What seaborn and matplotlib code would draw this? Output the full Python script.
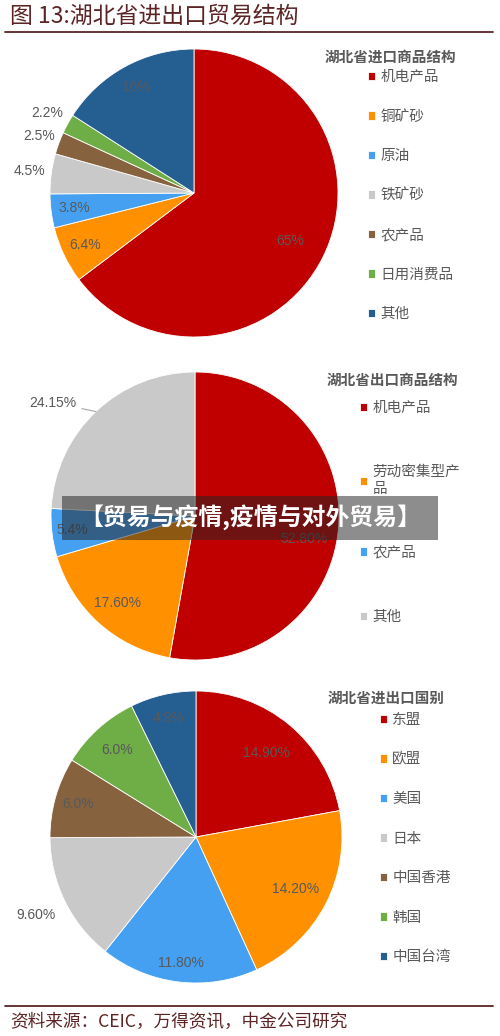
import matplotlib
matplotlib.use("Agg")
import matplotlib.pyplot as plt
import numpy as np
import seaborn as sns
from matplotlib.patches import Rectangle

# 湖北省进口商品结构
imp_names = ["机电产品", "铜矿砂", "原油", "铁矿砂", "农产品", "日用消费品", "其他"]
imp_values = [65, 6.4, 3.8, 4.5, 2.5, 2.2, 16]
imp_labels = ["65%", "6.4%", "3.8%", "4.5%", "2.5%", "2.2%", "16%"]

# 湖北省出口商品结构
exp_names = ["机电产品", "劳动密集型产\n品", "农产品", "其他"]
exp_values = [52.80, 17.60, 5.4, 24.15]
exp_labels = ["52.80%", "17.60%", "5.4%", "24.15%"]

# 湖北省进出口国别
ctry_names = ["东盟", "欧盟", "美国", "日本", "中国香港", "韩国", "中国台湾"]
ctry_values = [14.90, 14.20, 11.80, 9.60, 6.0, 6.0, 4.9]
ctry_labels = ["14.90%", "14.20%", "11.80%", "9.60%", "6.0%", "6.0%", "4.9%"]

RED, ORANGE, LBLUE, GRAY = "#C00000", "#FF9100", "#45A0F2", "#C9C9C9"
BROWN, GREEN, DBLUE = "#86623E", "#6FAD47", "#255E91"

W, H = 500, 1036
TXT = "#595959"
DARK = "#5C2424"
NUM_FONT = ["Liberation Sans", "DejaVu Sans"]

sns.set_theme(style="white")
plt.rcParams["font.family"] = ["Noto Sans CJK SC", "DejaVu Sans"]

fig = plt.figure(figsize=(W / 100, H / 100), dpi=100)
fig.patch.set_facecolor("white")


def pie_axes(cx, cy, r):
    ax = fig.add_axes([(cx - r) / W, (H - cy - r) / H, 2 * r / W, 2 * r / H])
    ax.axis("off")
    return ax


def mid_point(w, d=1.0):
    ang = np.deg2rad((w.theta1 + w.theta2) / 2)
    return d * np.cos(ang), d * np.sin(ang)


def draw_pie(ax, values, colors, labels, dists):
    wedges, _ = ax.pie(values, colors=colors, startangle=90, counterclock=False,
                       radius=1, wedgeprops=dict(edgecolor="white", linewidth=0.6))
    # pie() resets the limits to +-1.25, make the circle fill the axes
    ax.set_xlim(-1, 1)
    ax.set_ylim(-1, 1)
    ax.set_aspect("equal")
    for w, lab, d in zip(wedges, labels, dists):
        if d is None:
            continue
        x, y = mid_point(w, d)
        ax.text(x, y, lab, ha="center", va="center", fontsize=10, color=TXT, family=NUM_FONT)
    return wedges


def legend(handles, names, title, tx, ty, mx, my, spacing):
    fig.text(tx / W, 1 - ty / H, title, ha="left", va="center", fontsize=10.5,
             fontweight="bold", color=TXT)
    fig.legend(handles, names, loc="upper left", bbox_to_anchor=(mx / W, 1 - my / H),
               frameon=False, fontsize=10.5, labelcolor=TXT, borderpad=0,
               borderaxespad=0, handlelength=0.5, handleheight=0.5,
               handletextpad=0.35, labelspacing=spacing)


# pie 1
ax1 = pie_axes(194, 193, 144)
w1 = draw_pie(ax1, imp_values, [RED, ORANGE, LBLUE, GRAY, BROWN, GREEN, DBLUE],
              imp_labels, [0.75, 0.84, 0.84, 1.15, 1.15, 1.16, 0.84])
legend(w1, imp_names, "湖北省进口商品结构", 325, 57, 368, 70, 1.75)

# pie 2
ax2 = pie_axes(195, 516, 144)
w2 = draw_pie(ax2, exp_values, [RED, ORANGE, LBLUE, GRAY],
              exp_labels, [None, 0.81, 0.855, None])
ax2.annotate(exp_labels[0], xy=mid_point(w2[0], 0.76), xytext=(0, -13),
             textcoords="offset pixels", ha="center", va="center", fontsize=10,
             color=TXT, family=NUM_FONT)
ax2.annotate(exp_labels[3], xy=mid_point(w2[3]), xytext=(-20, 9),
             textcoords="offset pixels", ha="right", va="center", fontsize=10,
             color=TXT, family=NUM_FONT,
             arrowprops=dict(arrowstyle="-", color="#A6A6A6", lw=0.8, shrinkA=2, shrinkB=0))
legend(w2, exp_names, "湖北省出口商品结构", 327, 380, 360, 401, 3.45)

# pie 3
ax3 = pie_axes(196, 837, 146)
w3 = draw_pie(ax3, ctry_values, [RED, ORANGE, LBLUE, GRAY, BROWN, GREEN, DBLUE],
              ctry_labels, [0.75, 0.77, 0.87, 1.22, 0.84, 0.80, 0.84])
legend(w3, ctry_names, "湖北省进出口国别", 328, 698, 380, 713, 1.75)

# header / footer
fig.text(10 / W, 1 - 16 / H, "图 13:湖北省进出口贸易结构", ha="left", va="center",
         fontsize=16.5, color=DARK)
fig.add_artist(plt.Line2D([5 / W, 493 / W], [1 - 31.5 / H] * 2, color=DARK, lw=1.3))
fig.add_artist(plt.Line2D([5 / W, 493 / W], [1 - 1006 / H] * 2, color=DARK, lw=1.3))
fig.text(10 / W, 1 - 1022 / H, "资料来源：CEIC，万得资讯，中金公司研究", ha="left",
         va="center", fontsize=12.7, color=DARK)

# overlay banner
fig.add_artist(Rectangle((62 / W, 1 - 540 / H), 376 / W, 44 / H, transform=fig.transFigure,
                         facecolor=(0.14, 0.14, 0.14), alpha=0.52, edgecolor="none", zorder=10))
fig.text(250 / W, 1 - 517 / H, "【贸易与疫情,疫情与对外贸易】", ha="center", va="center",
         fontsize=17.2, fontweight="bold", color="white", zorder=11)

fig.savefig("out.png", dpi=100, facecolor="white")
